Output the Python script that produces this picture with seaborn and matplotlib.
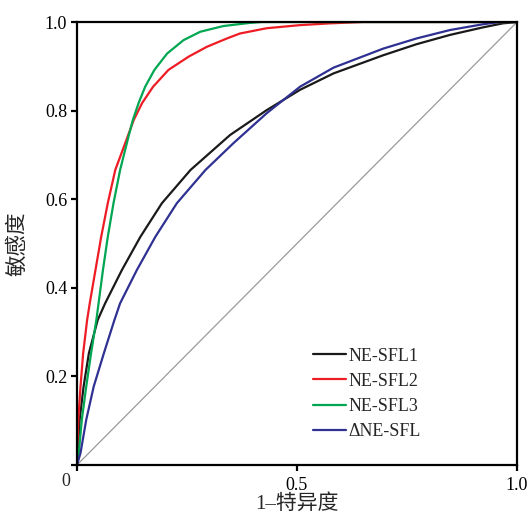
import matplotlib
matplotlib.use('Agg')
import matplotlib.pyplot as plt
import seaborn as sns
import pandas as pd

# ROC curve points (1-specificity, sensitivity)
sfl1_x = [0, 0.002, 0.006, 0.015, 0.027, 0.047, 0.064, 0.102, 0.144, 0.193, 0.258,
          0.348, 0.431, 0.507, 0.583, 0.696, 0.772, 0.848, 0.923, 0.968, 1.0]
sfl1_y = [0, 0.027, 0.102, 0.177, 0.252, 0.327, 0.365, 0.440, 0.515, 0.591, 0.666,
          0.745, 0.801, 0.847, 0.884, 0.925, 0.950, 0.971, 0.988, 0.997, 1.0]

sfl2_x = [0, 0.0005, 0.003, 0.008, 0.014, 0.023, 0.029, 0.042, 0.055, 0.070, 0.087,
          0.115, 0.129, 0.148, 0.173, 0.208, 0.254, 0.295, 0.341, 0.370, 0.431,
          0.507, 0.575, 0.65, 1.0]
sfl2_y = [0, 0.027, 0.102, 0.177, 0.252, 0.327, 0.365, 0.440, 0.515, 0.591, 0.666,
          0.741, 0.779, 0.817, 0.854, 0.892, 0.922, 0.944, 0.963, 0.974, 0.986,
          0.993, 0.997, 1.0, 1.0]

sfl3_x = [0, 0.004, 0.011, 0.021, 0.032, 0.044, 0.059, 0.070, 0.083, 0.098, 0.117,
          0.127, 0.140, 0.155, 0.176, 0.205, 0.242, 0.280, 0.333, 0.393, 0.42, 1.0]
sfl3_y = [0, 0.027, 0.102, 0.177, 0.252, 0.327, 0.440, 0.515, 0.591, 0.666, 0.741,
          0.779, 0.817, 0.854, 0.892, 0.929, 0.959, 0.978, 0.991, 0.998, 1.0, 1.0]

dsfl_x = [0, 0.008, 0.021, 0.038, 0.061, 0.085, 0.098, 0.136, 0.178, 0.227, 0.292,
          0.355, 0.431, 0.507, 0.583, 0.696, 0.772, 0.848, 0.923, 0.96, 1.0]
dsfl_y = [0, 0.027, 0.102, 0.177, 0.252, 0.327, 0.365, 0.440, 0.515, 0.591, 0.666,
          0.726, 0.794, 0.854, 0.897, 0.940, 0.963, 0.982, 0.995, 1.0, 1.0]

series = ['NE-SFL1', 'NE-SFL2', 'NE-SFL3', 'ΔNE-SFL']
colors = ['#1a1a1a', '#ee1c24', '#00a651', '#2e3192']

frames = []
for name, xs, ys in zip(series, [sfl1_x, sfl2_x, sfl3_x, dsfl_x],
                        [sfl1_y, sfl2_y, sfl3_y, dsfl_y]):
    frames.append(pd.DataFrame({'fpr': xs, 'tpr': ys, 'model': name}))
df = pd.concat(frames, ignore_index=True)

sns.set_style('white')
plt.rcParams['font.family'] = ['Liberation Serif', 'Noto Sans CJK SC']
plt.rcParams['axes.unicode_minus'] = False

fig = plt.figure(figsize=(5.32, 5.17), dpi=100)
ax = fig.add_axes([0.1447, 0.1006, 0.8271, 0.8568])

# reference diagonal
ax.plot([0, 1], [0, 1], color='#9a9a9a', lw=0.9, zorder=1)

sns.lineplot(data=df, x='fpr', y='tpr', hue='model', hue_order=series,
             palette=colors, estimator=None, sort=False, lw=1.6, ax=ax)

ax.set_xlim(0, 1)
ax.set_ylim(0, 1)
ax.set_xticks([0, 0.5, 1.0])
ax.set_xticklabels(['', '0.5', '1.0'])
ax.set_yticks([0, 0.2, 0.4, 0.6, 0.8, 1.0])
ax.set_yticklabels(['', '0.2', '0.4', '0.6', '0.8', '1.0'])
ax.annotate('0', xy=(0, 0), xytext=(-8, -6), textcoords='offset points',
            ha='center', va='top', fontsize=13)

for side in ['left', 'right', 'top', 'bottom']:
    ax.spines[side].set_color('black')
    ax.spines[side].set_linewidth(1.6)
ax.tick_params(axis='both', direction='out', length=4, width=1.6,
               labelsize=13, colors='black', pad=3)
ax.tick_params(axis='x', bottom=True, pad=5)
ax.tick_params(axis='y', left=True)

ax.set_xlabel('1–特异度', fontsize=15, labelpad=0)
ax.set_ylabel('敏感度', fontsize=15.5, labelpad=12)

ax.legend(loc='lower left', bbox_to_anchor=(0.52, 0.04), frameon=False,
          fontsize=13, handlelength=1.8, handletextpad=0.15, labelspacing=0.45,
          borderaxespad=0)

plt.savefig('out.png', dpi=100)
plt.close()
